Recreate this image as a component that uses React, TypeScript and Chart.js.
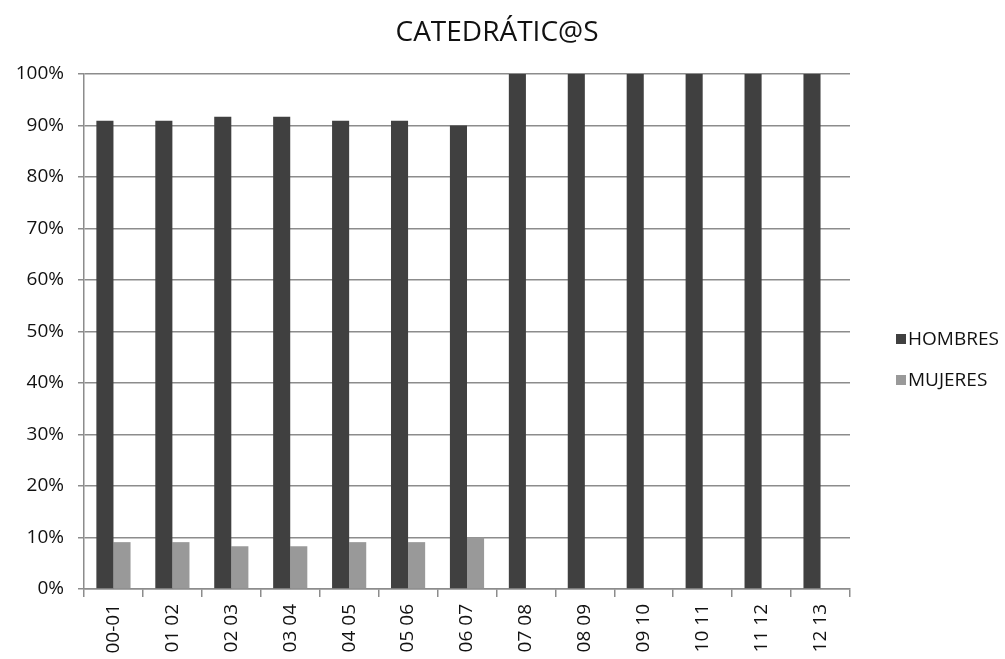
import React, { useEffect, useRef } from "react";
import { Chart, registerables } from "chart.js";

Chart.register(...registerables);

const categories = [
  "00-01", "01 02", "02 03", "03 04", "04 05", "05 06", "06 07",
  "07 08", "08 09", "09 10", "10 11", "11 12", "12 13",
];
const hombres = [90.9, 90.9, 91.7, 91.7, 90.9, 90.9, 90, 100, 100, 100, 100, 100, 100];
const mujeres = [9.1, 9.1, 8.3, 8.3, 9.1, 9.1, 10, 0, 0, 0, 0, 0, 0];
const seriesNames = ["HOMBRES", "MUJERES"];
const titleText = "CATEDRÁTIC@S";

const FONT = "'Open Sans', 'Liberation Sans', sans-serif";
const TEXT = "#111111";
const GRID = "#8c8c8c";

// Title centred over the figure, above the plot
const topTitle = {
  id: "topTitle",
  afterDraw(chart: Chart) {
    const ctx = chart.ctx;
    ctx.save();
    ctx.font = `28px ${FONT}`;
    ctx.fillStyle = TEXT;
    ctx.textAlign = "center";
    ctx.textBaseline = "middle";
    ctx.fillText(titleText, 497, 33);
    ctx.restore();
  },
};

// Vertical legend at the right of the plot, square swatch + label
const sideLegend = {
  id: "sideLegend",
  afterDraw(chart: Chart) {
    const ctx = chart.ctx;
    const x = 896;
    const ys = [339, 380];
    ctx.save();
    ctx.font = `19px ${FONT}`;
    ctx.textBaseline = "middle";
    ctx.textAlign = "left";
    chart.data.datasets.forEach((ds: any, i: number) => {
      const y = ys[i];
      ctx.fillStyle = ds.backgroundColor;
      ctx.fillRect(x, y - 5, 10, 10);
      ctx.fillStyle = TEXT;
      ctx.fillText(ds.label, x + 12, y + 1);
    });
    ctx.restore();
  },
};

export default function App() {
  const ref = useRef<HTMLCanvasElement | null>(null);

  useEffect(() => {
    document.body.style.margin = "0";
    const canvas = ref.current;
    if (!canvas) return;
    const chart = new Chart(canvas, {
      type: "bar",
      data: {
        labels: categories,
        datasets: [
          {
            label: seriesNames[0],
            data: hombres,
            backgroundColor: "#404040",
            borderWidth: 0,
            categoryPercentage: 0.58,
            barPercentage: 1,
          },
          {
            label: seriesNames[1],
            data: mujeres,
            backgroundColor: "#999999",
            borderWidth: 0,
            categoryPercentage: 0.58,
            barPercentage: 1,
          },
        ],
      },
      options: {
        animation: false,
        responsive: false,
        layout: { padding: { left: 0, right: 155, top: 74, bottom: 0 } },
        plugins: {
          legend: { display: false },
          tooltip: { enabled: false },
          title: { display: false },
        },
        scales: {
          x: {
            offset: true,
            grid: {
              display: true,
              drawOnChartArea: false,
              drawTicks: true,
              tickLength: 8,
              color: GRID,
              lineWidth: 1.5,
              offset: true,
            },
            border: { display: true, color: GRID, width: 1.5 },
            ticks: {
              color: TEXT,
              font: { family: FONT, size: 19 },
              minRotation: 90,
              maxRotation: 90,
              padding: 7,
              autoSkip: false,
            },
            afterFit(scale: any) {
              scale.height = 70;
            },
          },
          y: {
            min: 0,
            max: 100,
            grid: {
              color: GRID,
              lineWidth: 1.5,
              drawTicks: true,
              tickLength: 6,
            },
            border: { display: true, color: GRID, width: 1.5 },
            ticks: {
              stepSize: 10,
              color: TEXT,
              font: { family: FONT, size: 19 },
              padding: 14,
              callback: (v: any) => `${v}%`,
            },
            afterFit(scale: any) {
              scale.width = 84;
            },
          },
        },
      },
      plugins: [topTitle, sideLegend],
    });
    return () => chart.destroy();
  }, []);

  return <canvas ref={ref} width={1005} height={659} style={{ display: "block" }} />;
}
